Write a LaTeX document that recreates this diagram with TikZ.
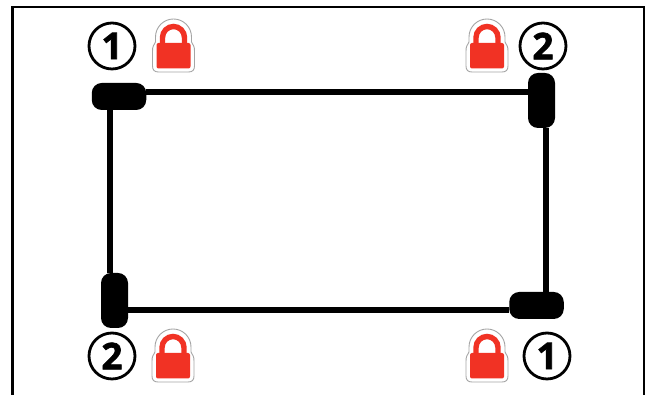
\documentclass[tikz,border=0pt]{standalone}
\usepackage{fontspec}
\setmainfont{Open Sans}
\newfontfamily\digitfont[FakeBold=1.6]{Open Sans Bold}
\definecolor{lockred}{RGB}{241,50,36}
\definecolor{lockedge}{RGB}{165,165,165}
\tikzset{
  x=1pt,y=1pt,
  pill/.style={fill=black,draw=none,rounded corners=10pt,inner sep=0pt},
  hpill/.style={pill,minimum width=54.5pt,minimum height=27pt},
  vpill/.style={pill,minimum width=27pt,minimum height=55pt},
  wire/.style={draw=black,line width=6pt},
  frameline/.style={draw=black,line width=2.2pt},
  badge/.style={circle,draw=black,line width=2.8pt,minimum size=46pt,inner sep=0pt,font=\digitfont\fontsize{37}{37}\selectfont},
  lockpic/.pic={
    \draw[lockedge,fill=white,line width=.9pt]
      (-15,-53) .. controls (-19,-53) and (-21,-51) .. (-21,-47) -- (-21,-32)
      .. controls (-21,-28) and (-20,-26) .. (-18,-23)
      -- (-18,-18) arc[start angle=180,end angle=0,radius=18] -- (18,-23)
      .. controls (20,-26) and (21,-28) .. (21,-32) -- (21,-47)
      .. controls (21,-51) and (19,-53) .. (15,-53) -- cycle;
    \draw[lockred,line width=5.4pt] (-11,-27) -- (-11,-18.5) arc[start angle=180,end angle=0,radius=11] -- (11,-27);
    \fill[lockred,rounded corners=2pt] (-17,-49.5) rectangle (17,-24);
  }
}
\begin{document}
\begin{tikzpicture}
\useasboundingbox (0,0) rectangle (646,395);
\fill[white] (0,0) rectangle (646,395);
\draw[frameline] (12.5,0) -- (12.5,388) -- (644,388) -- (644,0);
\node[hpill] (tl) at (119,298.5) {};
\node[vpill] (tr) at (541.5,294.5) {};
\node[vpill] (bl) at (114.5,94.5) {};
\node[hpill] (br) at (536.5,89.5) {};
\draw[wire] ([yshift=4.5pt]tl.east) -- ([yshift=8.5pt]tr.west);
\draw[wire] ([xshift=-9pt]tl.south) -- ([xshift=-4.5pt]bl.north);
\draw[wire] ([xshift=4.5pt]tr.south) -- ([xshift=9.5pt]br.north);
\draw[wire] ([yshift=-9.5pt]bl.east) -- ([yshift=-4.5pt]br.west);
\node[badge] (n1) at (112,349) {1};
\node[badge] (n2) at (543,349) {2};
\node[badge] (n3) at (112,39) {2};
\node[badge] (n4) at (547,39) {1};
\pic at (173.5,376) {lockpic};
\pic at (487,376) {lockpic};
\pic at (173,66) {lockpic};
\pic at (487,66) {lockpic};
\end{tikzpicture}
\end{document}
